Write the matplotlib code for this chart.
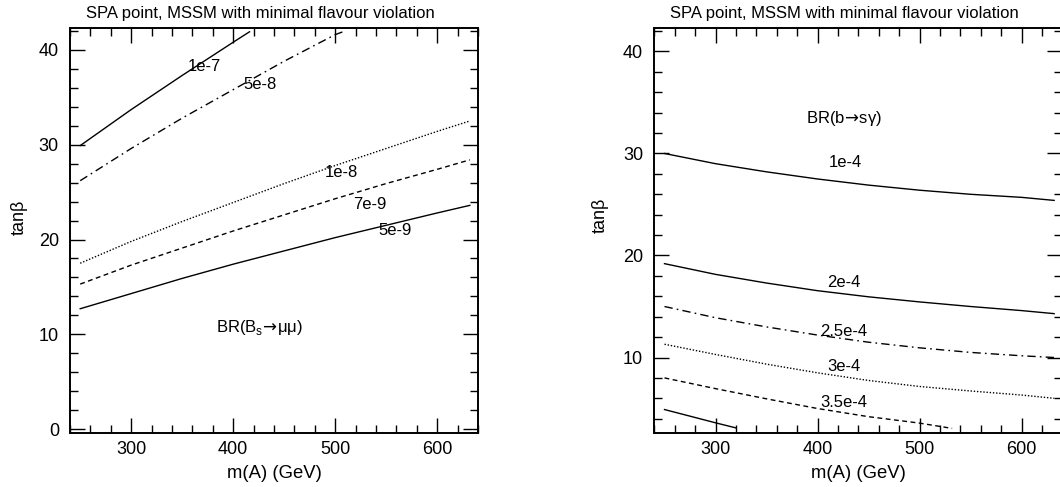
import matplotlib
matplotlib.use("Agg")
import matplotlib.pyplot as plt
from matplotlib.ticker import MultipleLocator

plt.rcParams['font.family'] = ['Liberation Sans', 'DejaVu Sans']

# ---------------- Left panel: BR(Bs -> mu mu) contours ----------------
mA_left = [250, 300, 350, 400, 450, 500, 550, 600, 632]
bsmm_5e9 = [12.7, 14.3, 15.9, 17.4, 18.8, 20.2, 21.5, 22.8, 23.6]
bsmm_7e9 = [15.3, 17.3, 19.1, 20.9, 22.6, 24.3, 25.9, 27.4, 28.4]
bsmm_1e8 = [17.5, 19.8, 21.9, 23.9, 25.9, 27.8, 29.6, 31.4, 32.5]
mA_5e8 = [250, 300, 350, 400, 450, 500, 510]
bsmm_5e8 = [26.2, 29.6, 32.8, 35.8, 38.8, 41.6, 42.0]
mA_1e7 = [250, 300, 350, 400, 416]
bsmm_1e7 = [29.9, 33.7, 37.3, 40.8, 41.9]

left_labels = ["1e-7", "5e-8", "1e-8", "7e-9", "5e-9"]
left_label_x = [372, 426, 506, 534, 559]
left_label_y = [38.2, 36.3, 27.1, 23.7, 21.0]

# ---------------- Right panel: BR(b -> s gamma) contours ----------------
mA_right = [250, 300, 350, 400, 450, 500, 550, 600, 632]
bsg_1e4 = [30.0, 29.0, 28.2, 27.5, 26.9, 26.4, 26.0, 25.7, 25.4]
bsg_2e4 = [19.2, 18.15, 17.3, 16.55, 15.95, 15.45, 15.0, 14.6, 14.3]
bsg_25e4 = [15.0, 13.9, 13.0, 12.2, 11.5, 10.95, 10.5, 10.17, 10.0]
bsg_3e4 = [11.3, 10.3, 9.35, 8.5, 7.75, 7.16, 6.72, 6.32, 6.0]
mA_35e4 = [250, 300, 350, 400, 450, 500, 532]
bsg_35e4 = [8.0, 6.95, 5.95, 5.0, 4.2, 3.57, 3.05]
mA_4e4 = [250, 300, 320]
bsg_4e4 = [4.9, 3.6, 3.1]

right_labels = ["1e-4", "2e-4", "2.5e-4", "3e-4", "3.5e-4"]
right_label_x = [427, 426, 426, 426, 426]
right_label_y = [29.1, 17.35, 12.55, 9.12, 5.59]

title = "SPA point, MSSM with minimal flavour violation"

fig = plt.figure(figsize=(10.6, 4.87), dpi=100)
W, H = 1060, 487
axL = fig.add_axes([70 / W, 1 - 433 / H, 408 / W, 405 / H])
axR = fig.add_axes([654.3 / W, 1 - 433 / H, 408 / W, 405 / H])

dashdot = (0, (6, 3, 1.2, 3))
dotted = (0, (1, 1.3))
dashed = (0, (3.5, 2.5))
lw = 1.0
fs_lab = 12

axL.plot(mA_1e7, bsmm_1e7, color='black', lw=lw, ls='-')
axL.plot(mA_5e8, bsmm_5e8, color='black', lw=lw, ls=dashdot)
axL.plot(mA_left, bsmm_1e8, color='black', lw=lw, ls=dotted)
axL.plot(mA_left, bsmm_7e9, color='black', lw=lw, ls=dashed)
axL.plot(mA_left, bsmm_5e9, color='black', lw=lw, ls='-')
for t, x, y in zip(left_labels, left_label_x, left_label_y):
    axL.text(x, y, t, ha='center', va='center', fontsize=fs_lab)
axL.text(426, 10.7, "BR(B$_\\mathregular{s}$$\\!\\rightarrow\\!$μμ)", ha='center', va='center', fontsize=fs_lab)

axR.plot(mA_right, bsg_1e4, color='black', lw=lw, ls='-')
axR.plot(mA_right, bsg_2e4, color='black', lw=lw, ls='-')
axR.plot(mA_right, bsg_25e4, color='black', lw=lw, ls=dashdot)
axR.plot(mA_right, bsg_3e4, color='black', lw=lw, ls=dotted)
axR.plot(mA_35e4, bsg_35e4, color='black', lw=lw, ls=dashed)
axR.plot(mA_4e4, bsg_4e4, color='black', lw=lw, ls='-')
for t, x, y in zip(right_labels, right_label_x, right_label_y):
    axR.text(x, y, t, ha='center', va='center', fontsize=fs_lab)
axR.text(426, 33.4, "BR(b$\\!\\rightarrow\\!$sγ)", ha='center', va='center', fontsize=fs_lab)

axL.set_xlim(240, 640)
axL.set_ylim(-0.4, 42.3)
axR.set_xlim(240, 640)
axR.set_ylim(2.6, 42.3)

for ax in (axL, axR):
    ax.xaxis.set_major_locator(MultipleLocator(100))
    ax.xaxis.set_minor_locator(MultipleLocator(20))
    ax.yaxis.set_major_locator(MultipleLocator(10))
    ax.yaxis.set_minor_locator(MultipleLocator(2))
    ax.tick_params(which='both', direction='in', top=True, right=True, color='black')
    ax.tick_params(which='major', length=11, width=1.0, labelsize=13)
    ax.tick_params(which='minor', length=5.5, width=1.0)
    ax.tick_params(axis='x', which='major', pad=6)
    ax.tick_params(axis='y', which='major', pad=8)
    for s in ax.spines.values():
        s.set_linewidth(1.4)
    ax.text(0.467, 1.035, title, transform=ax.transAxes, ha='center', va='center', fontsize=12)

# axis labels
fig.text(274 / W, 1 - 474 / H, "m(A) (GeV)", ha='center', va='center', fontsize=13.3)
fig.text(858 / W, 1 - 474 / H, "m(A) (GeV)", ha='center', va='center', fontsize=13.3)
fig.text(19 / W, 1 - 217 / H, "tanβ", ha='center', va='center', rotation=90, fontsize=13)
fig.text(600 / W, 1 - 215 / H, "tanβ", ha='center', va='center', rotation=90, fontsize=13)

fig.savefig("out.png", dpi=100)
